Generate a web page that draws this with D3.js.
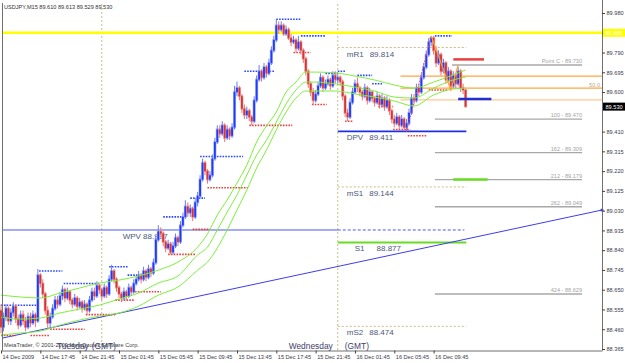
<!DOCTYPE html>
<html>
<head>
<meta charset="utf-8">
<script src="https://cdn.jsdelivr.net/npm/d3@7"></script>
<style>
  body { margin: 0; background: #fff; }
  svg { display: block; font-family: "Liberation Sans", Arial, sans-serif; }
</style>
</head>
<body>
<div id="chart"></div>
<script>
// USDJPY M15 bars, 14 Dec 13:45 -> 16 Dec 13:00
var firstOpen = 88.55;
var closes = [88.47,88.52,88.56,88.50,88.54,88.57,88.51,88.48,88.53,88.50,
  88.47,88.52,88.49,88.53,88.50,88.72,88.68,88.63,88.55,88.49,
  88.52,88.56,88.60,88.58,88.62,88.65,88.61,88.64,88.60,88.58,
  88.61,88.57,88.59,88.56,88.58,88.55,88.60,88.64,88.62,88.67,
  88.65,88.62,88.66,88.63,88.70,88.74,88.70,88.66,88.63,88.61,
  88.64,88.62,88.66,88.64,88.68,88.70,88.72,88.70,88.74,88.71,
  88.75,88.73,88.78,88.89,88.93,88.92,88.88,88.85,88.87,88.83,
  88.86,88.90,88.88,88.96,89.00,89.05,89.02,89.04,89.00,89.07,
  89.10,89.18,89.26,89.22,89.18,89.20,89.28,89.36,89.42,89.40,
  89.44,89.38,89.42,89.39,89.43,89.60,89.62,89.58,89.52,89.49,
  89.51,89.48,89.46,89.56,89.66,89.70,89.67,89.72,89.69,89.74,
  89.80,89.85,89.92,89.90,89.92,89.88,89.90,89.86,89.84,89.85,
  89.81,89.84,89.80,89.76,89.70,89.64,89.60,89.56,89.59,89.63,
  89.67,89.62,89.64,89.66,89.63,89.68,89.66,89.67,89.65,89.58,
  89.50,89.48,89.55,89.60,89.64,89.62,89.60,89.58,89.62,89.56,
  89.60,89.57,89.55,89.58,89.54,89.57,89.53,89.56,89.51,89.47,
  89.45,89.48,89.44,89.47,89.43,89.45,89.50,89.57,89.56,89.62,
  89.60,89.67,89.72,89.78,89.84,89.86,89.80,89.74,89.78,89.70,
  89.74,89.66,89.70,89.63,89.68,89.64,89.70,89.62,89.61,89.530];
var highs = [88.58,88.54,88.58,88.57,88.56,88.59,88.58,88.53,88.55,88.55,
  88.52,88.54,88.54,88.55,88.54,88.75,88.73,88.70,88.64,88.57,
  88.54,88.58,88.62,88.62,88.64,88.67,88.66,88.66,88.65,88.61,
  88.63,88.62,88.61,88.60,88.60,88.59,88.62,88.66,88.66,88.69,
  88.68,88.66,88.68,88.67,88.72,88.77,88.75,88.71,88.67,88.64,
  88.66,88.65,88.68,88.67,88.70,88.72,88.74,88.73,88.76,88.75,
  88.77,88.76,88.80,88.91,88.96,88.95,88.93,88.89,88.89,88.88,
  88.88,88.92,88.91,88.98,89.02,89.08,89.07,89.06,89.05,89.09,
  89.12,89.20,89.28,89.27,89.23,89.22,89.30,89.38,89.44,89.44,
  89.46,89.45,89.44,89.43,89.45,89.63,89.65,89.63,89.59,89.54,
  89.53,89.52,89.49,89.58,89.68,89.73,89.71,89.74,89.73,89.76,
  89.82,89.87,89.95,89.94,89.94,89.93,89.92,89.91,89.88,89.87,
  89.86,89.87,89.85,89.81,89.77,89.71,89.65,89.62,89.61,89.65,
  89.69,89.68,89.66,89.68,89.67,89.70,89.70,89.69,89.68,89.66,
  89.59,89.52,89.57,89.62,89.66,89.67,89.63,89.61,89.64,89.63,
  89.62,89.61,89.58,89.60,89.59,89.59,89.58,89.58,89.57,89.52,
  89.49,89.50,89.49,89.49,89.48,89.47,89.52,89.59,89.59,89.64,
  89.64,89.69,89.74,89.80,89.86,89.87,89.87,89.82,89.80,89.79,
  89.76,89.75,89.72,89.71,89.70,89.69,89.72,89.71,89.64,89.613];
var lows = [88.44,88.45,88.50,88.48,88.48,88.52,88.49,88.46,88.47,88.48,
  88.45,88.46,88.47,88.48,88.47,88.49,88.66,88.61,88.53,88.46,
  88.47,88.51,88.55,88.56,88.57,88.60,88.59,88.60,88.58,88.56,
  88.57,88.55,88.56,88.54,88.55,88.53,88.54,88.59,88.60,88.61,
  88.63,88.60,88.61,88.61,88.62,88.69,88.68,88.64,88.61,88.59,
  88.60,88.60,88.61,88.62,88.63,88.67,88.69,88.68,88.69,88.69,
  88.70,88.71,88.72,88.77,88.88,88.90,88.86,88.83,88.84,88.82,
  88.82,88.85,88.86,88.87,88.95,88.99,89.00,89.00,88.98,88.99,
  89.05,89.09,89.17,89.20,89.16,89.17,89.19,89.27,89.35,89.38,
  89.39,89.36,89.37,89.37,89.38,89.42,89.58,89.56,89.50,89.47,
  89.47,89.46,89.44,89.45,89.55,89.65,89.65,89.66,89.67,89.68,
  89.73,89.79,89.84,89.88,89.89,89.87,89.87,89.85,89.82,89.83,
  89.79,89.80,89.78,89.74,89.68,89.62,89.58,89.54,89.55,89.58,
  89.62,89.60,89.61,89.63,89.61,89.62,89.64,89.64,89.63,89.56,
  89.48,89.46,89.47,89.54,89.59,89.60,89.58,89.56,89.57,89.54,
  89.55,89.55,89.53,89.54,89.52,89.53,89.51,89.52,89.49,89.45,
  89.43,89.44,89.42,89.43,89.42,89.41,89.44,89.49,89.54,89.55,
  89.58,89.59,89.66,89.71,89.77,89.82,89.78,89.72,89.73,89.68,
  89.69,89.64,89.65,89.61,89.62,89.62,89.63,89.60,89.59,89.529];

// moving average envelope (three green lines), sampled at bar indexes
var maIdx    = [0,8,16,24,32,40,48,56,64,72,80,84,88,92,96,100,104,108,112,116,120,124,128,136,144,152,160,168,176,184,189];
var maUpper  = [88.624,88.615,88.610,88.634,88.658,88.682,88.696,88.716,88.744,88.783,88.855,88.918,89.009,89.081,89.163,89.249,89.360,89.437,89.504,89.600,89.648,89.696,89.696,89.692,89.677,89.658,89.634,89.619,89.648,89.682,89.706];
var maMiddle = [88.518,88.509,88.514,88.538,88.557,88.576,88.605,88.634,88.682,88.716,88.817,88.855,88.937,89.023,89.105,89.201,89.297,89.369,89.456,89.543,89.610,89.648,89.648,89.639,89.624,89.605,89.576,89.571,89.619,89.658,89.672];
var maLower  = [88.432,88.442,88.451,88.480,88.504,88.523,88.538,88.571,88.624,88.663,88.744,88.783,88.850,88.937,89.033,89.129,89.235,89.321,89.418,89.504,89.571,89.605,89.605,89.605,89.591,89.576,89.557,89.533,89.586,89.615,89.619];

// dotted fractal levels: [price, fromBar, toBar]
var upLevels = [[88.575,0,15],[88.74,15.5,25],[88.68,25.5,40],[88.76,44,51.5],[88.72,51.5,60.5],
  [89.00,66,74],[89.09,77,83],[89.29,81,98.5],[89.70,99,111.5],[89.95,112,122],[89.87,122,132],
  [89.69,132,137],[89.70,137,140],[89.68,145,151],[89.64,151,155],[89.87,176.5,183.5]];
var downLevels = [[88.43,0,6],[88.43,12,20],[88.46,20,34],[88.53,34.5,46.5],[88.60,46.5,54.5],
  [88.64,54.5,65],[88.82,68,79],[88.94,78,85],[89.14,84,100.5],[89.44,101,118.5],[89.79,119,126],
  [89.54,126.5,132.5],[89.46,140,143],[89.53,153.5,159.5],[89.42,159.5,166.5],[89.39,165.5,173.5],[89.61,174,182]];

// pivots
var pivotNames  = ["mR1", "DPV", "mS1", "S1", "mS2"];
var pivotValues = [89.814, 89.411, 89.144, 88.877, 88.474];
var weeklyPivot = 88.937;

// fibonacci expansion
var fibNames  = ["Point C", "100", "162", "212", "262", "424"];
var fibValues = [89.730, 89.470, 89.309, 89.179, 89.049, 88.629];
var retraceValues = [89.677, 89.619, 89.562];
var retraceLabels = ["", "50.0", ""];

var trendBars   = [0.4, 244.5];
var trendPrices = [88.417, 89.033];
var zigBars   = [165, 175, 183, 186];
var zigPrices = [89.41, 89.87, 89.61, 89.73];

var highLine = 89.885;
var lastPrice = 89.530;

var priceTicks = [89.980, 89.885, 89.790, 89.695, 89.600, 89.410, 89.315, 89.220, 89.125,
  89.030, 88.935, 88.840, 88.745, 88.650, 88.555, 88.460, 88.365];
var timeIdx = [0, 16, 32, 48, 64, 80, 96, 112, 128, 144, 160, 176];
var timeLabels = ["14 Dec 2009", "14 Dec 17:45", "14 Dec 21:45", "15 Dec 01:45", "15 Dec 05:45",
  "15 Dec 09:45", "15 Dec 13:45", "15 Dec 17:45", "15 Dec 21:45", "16 Dec 01:45",
  "16 Dec 05:45", "16 Dec 09:45"];
var daySeps = [41, 137];
var dayNames = ["Tuesday", "Wednesday"];

var width = 625, height = 363;

var svg = d3.select("#chart").append("svg")
  .attr("width", width).attr("height", height);

svg.append("rect").attr("width", width).attr("height", height).attr("fill", "#fff");

var x = d3.scaleLinear().domain([0, 244.5]).range([1, 602]);
var y = d3.scaleLinear().domain([88.365, 89.980]).range([349, 13]);

var bars = closes.map(function(c, i) {
  return { i: i, o: i === 0 ? firstOpen : closes[i - 1], h: highs[i], l: lows[i], c: c };
});

// day separators
svg.selectAll(".sep").data(daySeps).enter().append("line")
  .attr("x1", function(d) { return x(d); }).attr("x2", function(d) { return x(d); })
  .attr("y1", 4).attr("y2", 350)
  .attr("stroke", "#c8bc84").attr("stroke-dasharray", "2,2");

// yellow line
svg.append("line").attr("x1", 2).attr("x2", 602)
  .attr("y1", y(highLine)).attr("y2", y(highLine))
  .attr("stroke", "#ffff00").attr("stroke-width", 2.5);

// retracement lines
svg.selectAll(".ret").data(retraceValues).enter().append("line")
  .attr("x1", x(162.5)).attr("x2", 602)
  .attr("y1", function(d) { return y(d); }).attr("y2", function(d) { return y(d); })
  .attr("stroke", function(d, i) { return i === 2 ? "#ffc890" : "#ffa640"; })
  .attr("stroke-width", 1.3);
svg.selectAll(".retl").data(retraceValues).enter().append("text")
  .attr("x", 600).attr("y", function(d) { return y(d) - 1.5; })
  .attr("text-anchor", "end").style("font-size", "5.6px").attr("fill", "#b8a888")
  .text(function(d, i) { return retraceLabels[i]; });

// fibo expansion lines
svg.selectAll(".fib").data(fibValues).enter().append("line")
  .attr("x1", function(d, i) { return i === 0 ? x(183.5) : x(176.5); })
  .attr("x2", x(236.4))
  .attr("y1", function(d) { return y(d); }).attr("y2", function(d) { return y(d); })
  .attr("stroke", "#a8a8a8").attr("stroke-width", 1.4);
svg.selectAll(".fibl").data(fibValues).enter().append("text")
  .attr("x", x(236.4)).attr("y", function(d) { return y(d) - 2; })
  .attr("text-anchor", "end").style("font-size", "5.6px").attr("fill", "#a4a4a4")
  .text(function(d, i) { return fibNames[i] + " - " + d.toFixed(3); });

// pivot lines
var pivStyle = {
  mR1: { c: "#c8bc84", w: 1, dash: "2,2" },
  DPV: { c: "#2030e0", w: 1.6, dash: null },
  mS1: { c: "#c8bc84", w: 1, dash: "2,2" },
  S1:  { c: "#66dd22", w: 2.2, dash: null },
  mS2: { c: "#c8bc84", w: 1, dash: "2,2" }
};
svg.selectAll(".piv").data(pivotValues).enter().append("line")
  .attr("x1", x(137)).attr("x2", x(189.3))
  .attr("y1", function(d) { return y(d); }).attr("y2", function(d) { return y(d); })
  .attr("stroke", function(d, i) { return pivStyle[pivotNames[i]].c; })
  .attr("stroke-width", function(d, i) { return pivStyle[pivotNames[i]].w; })
  .attr("stroke-dasharray", function(d, i) { return pivStyle[pivotNames[i]].dash; });
var pivText = svg.selectAll(".pivt").data(pivotValues).enter().append("text")
  .attr("x", function(d, i) { return pivotNames[i] === "S1" ? x(137) + 17 : x(137) + 9; })
  .attr("y", function(d) { return y(d) + 9; })
  .style("font-size", "8px").attr("fill", "#4c5878");
pivText.append("tspan").text(function(d, i) { return pivotNames[i]; });
pivText.append("tspan").attr("dx", function(d, i) { return pivotNames[i] === "S1" ? 12 : 6; })
  .text(function(d) { return d.toFixed(3); });

// weekly pivot
svg.append("line").attr("x1", 2).attr("x2", x(137))
  .attr("y1", y(weeklyPivot)).attr("y2", y(weeklyPivot))
  .attr("stroke", "#4a5af0").attr("stroke-width", 1);
svg.append("line").attr("x1", x(137)).attr("x2", x(188.5))
  .attr("y1", y(weeklyPivot)).attr("y2", y(weeklyPivot))
  .attr("stroke", "#4a5af0").attr("stroke-width", 1).attr("stroke-dasharray", "3,2");
svg.append("text").attr("x", x(49.5)).attr("y", y(weeklyPivot) + 9)
  .style("font-size", "8px").attr("fill", "#4c5878")
  .text("WPV   " + weeklyPivot.toFixed(3));

// trend line
svg.append("line")
  .attr("x1", x(trendBars[0])).attr("y1", y(trendPrices[0]))
  .attr("x2", x(trendBars[1])).attr("y2", y(trendPrices[1]))
  .attr("stroke", "#3d3df0").attr("stroke-width", 1);
svg.append("circle").attr("cx", x(trendBars[1])).attr("cy", y(trendPrices[1])).attr("r", 1.6)
  .attr("fill", "#3d3df0");

// fractal levels
function levels(data, color) {
  svg.selectAll(null).data(data).enter().append("line")
    .attr("x1", function(d) { return x(d[1]); }).attr("x2", function(d) { return x(d[2]); })
    .attr("y1", function(d) { return y(d[0]); }).attr("y2", function(d) { return y(d[0]); })
    .attr("stroke", color).attr("stroke-width", 1.6).attr("stroke-dasharray", "1.6,1.2");
}
levels(upLevels, "#2a48ff");
levels(downLevels, "#e84040");

// candles
var bw = 2.458;
var cg = svg.append("g");
cg.selectAll(".halo").data(bars).enter().append("rect")
  .attr("x", function(d) { return x(d.i) - bw / 2 - 0.3; })
  .attr("width", bw + 0.6)
  .attr("y", function(d) { return y(Math.max(d.o, d.c)) - 1; })
  .attr("height", function(d) { return Math.abs(y(d.o) - y(d.c)) + 2; })
  .attr("fill", function(d) { return d.c >= d.o ? "#aab4f4" : "#f2aaaa"; });
cg.selectAll(".wick").data(bars).enter().append("line")
  .attr("x1", function(d) { return x(d.i); }).attr("x2", function(d) { return x(d.i); })
  .attr("y1", function(d) { return y(d.h); }).attr("y2", function(d) { return y(d.l); })
  .attr("stroke", function(d) { return d.c >= d.o ? "#6a7cf0" : "#e07878"; })
  .attr("stroke-width", 1);
cg.selectAll(".body").data(bars).enter().append("rect")
  .attr("x", function(d) { return x(d.i) - 0.9; })
  .attr("width", 1.8)
  .attr("y", function(d) { return y(Math.max(d.o, d.c)); })
  .attr("height", function(d) { return Math.max(1, Math.abs(y(d.o) - y(d.c))); })
  .attr("fill", function(d) { return d.c >= d.o ? "#1e3cff" : "#d83434"; });

// moving average envelope
var maLine = d3.line().curve(d3.curveMonotoneX)
  .x(function(d) { return x(d[0]); }).y(function(d) { return y(d[1]); });
[maUpper, maMiddle, maLower].forEach(function(s) {
  svg.append("path").datum(maIdx.map(function(b, k) { return [b, s[k]]; }))
    .attr("fill", "none").attr("stroke", "#7cf03a").attr("stroke-width", 1)
    .attr("d", maLine);
});

// zigzag
svg.append("line")
  .attr("x1", x(zigBars[0])).attr("y1", y(zigPrices[0]))
  .attr("x2", x(zigBars[1])).attr("y2", y(zigPrices[1]))
  .attr("stroke", "#f05050").attr("stroke-dasharray", "1.5,1.5");
svg.append("path")
  .datum(zigBars.slice(1).map(function(b, k) { return [b, zigPrices[k + 1]]; }))
  .attr("fill", "none").attr("stroke", "#ffa030").attr("stroke-width", 1.2)
  .attr("d", d3.line().x(function(d) { return x(d[0]); }).y(function(d) { return y(d[1]); }));

// short thick markers at the right
var markPrices = [89.757, 89.567, 89.180];
var markBars = [[184, 196.5], [186, 199.5], [184, 198]];
var markColors = ["#e84040", "#2030d0", "#66dd22"];
svg.selectAll(".mk").data(markPrices).enter().append("line")
  .attr("x1", function(d, i) { return x(markBars[i][0]); })
  .attr("x2", function(d, i) { return x(markBars[i][1]); })
  .attr("y1", function(d) { return y(d); }).attr("y2", function(d) { return y(d); })
  .attr("stroke", function(d, i) { return markColors[i]; }).attr("stroke-width", 2.5);

// frame
svg.append("line").attr("x1", 2.5).attr("x2", 2.5).attr("y1", 3).attr("y2", 350.5)
  .attr("stroke", "#707070");

// axes
var ya = svg.append("g").attr("transform", "translate(602,0)")
  .call(d3.axisRight(y).tickValues(priceTicks).tickSize(3).tickSizeOuter(0).tickPadding(1.5)
    .tickFormat(d3.format(".3f")));
ya.select(".domain").attr("stroke", "#707070").attr("d", "M0.5,0V350.5");
ya.selectAll("line").attr("stroke", "#404040");
ya.selectAll("text").style("font-size", "5.6px").attr("fill", "#3a3a4a");

var xa = svg.append("g").attr("transform", "translate(0,350.5)")
  .call(d3.axisBottom(x).tickValues(timeIdx).tickSize(3).tickSizeOuter(0)
    .tickFormat(function(d, i) { return timeLabels[i]; }));
xa.select(".domain").attr("stroke", "#707070");
xa.selectAll("line").attr("stroke", "#404040");
xa.selectAll("text").attr("text-anchor", "start").attr("x", 1).attr("y", 5).attr("dy", "0.55em")
  .style("font-size", "5.6px").attr("fill", "#3a3a4a");

// price labels on the axis
function priceTag(p, bg, fg) {
  svg.append("rect").attr("x", 603).attr("y", y(p) - 4).attr("width", 22).attr("height", 8).attr("fill", bg);
  svg.append("text").attr("x", 605.5).attr("y", y(p) + 2).style("font-size", "5.6px")
    .attr("fill", fg).text(p.toFixed(3));
}
priceTag(highLine, "#ffff00", "#ffffff");
priceTag(lastPrice, "#000000", "#ffffff");

// header and footer texts
svg.append("text").attr("x", 4).attr("y", 9).style("font-size", "5.6px").attr("fill", "#333")
  .text("USDJPY,M15  89.610 89.613 89.529 89.530");
svg.append("text").attr("x", 4).attr("y", 347).style("font-size", "5.6px").attr("fill", "#404040")
  .text("MetaTrader, \u00a9 2001-2009 MetaQuotes Software Corp.");
// day names sit around each separator (MetaTrader places them a little unevenly)
var dayNameEnd = [x(daySeps[0]) - 13, x(daySeps[1]) - 5];
var gmtStart = [x(daySeps[0]) - 10, x(daySeps[1]) + 7];
daySeps.forEach(function(b, k) {
  svg.append("text").attr("x", dayNameEnd[k]).attr("y", 349).attr("text-anchor", "end")
    .style("font-size", "8.4px").attr("fill", "#40406a").text(dayNames[k]);
  svg.append("text").attr("x", gmtStart[k]).attr("y", 349)
    .style("font-size", "8.4px").attr("fill", "#40406a").text("(GMT)");
});
</script>
</body>
</html>
